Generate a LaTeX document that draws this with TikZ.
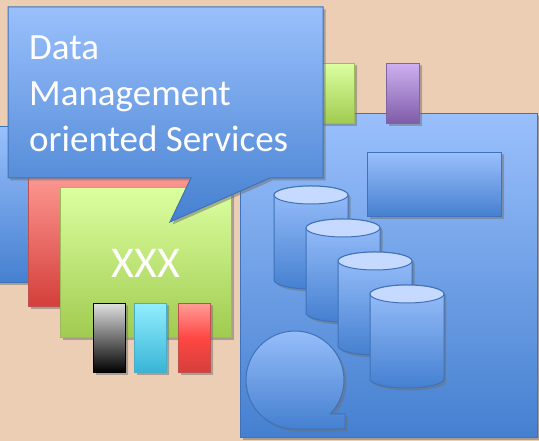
\documentclass[tikz,border=0pt]{standalone}
\usepackage{fontspec}
\setmainfont{Carlito}
\usetikzlibrary{shadows}
\definecolor{peach}{HTML}{EBCEB4}
\definecolor{blueTop}{HTML}{9AC0FC}
\definecolor{blueBot}{HTML}{4580D0}
\definecolor{blueLine}{HTML}{3F72B8}
\definecolor{cylTop}{HTML}{C6DAFF}
\definecolor{greenTop}{HTML}{DCFFA0}
\definecolor{greenBot}{HTML}{A0CB50}
\definecolor{greenLine}{HTML}{9BBB59}
\definecolor{redTop}{HTML}{FF9C96}
\definecolor{redBot}{HTML}{D43F3A}
\definecolor{redLine}{HTML}{C0504D}
\definecolor{purpleTop}{HTML}{CDB0F0}
\definecolor{purpleBot}{HTML}{7E5CA8}
\definecolor{purpleLine}{HTML}{8064A2}
\definecolor{cyanTop}{HTML}{92EEFF}
\definecolor{cyanBot}{HTML}{38B4D6}
\definecolor{cyanLine}{HTML}{4BACC6}
\tikzset{
  shadowed/.style={drop shadow={top color=black!60,bottom color=black!60,middle color=black!60,
      draw=none,opacity=0.3,shadow xshift=2.5pt,shadow yshift=-2.5pt}},
  box/.style={draw,anchor=south west,inner sep=0pt,line width=1pt,shadowed},
  bluebox/.style={box,top color=blueTop,bottom color=blueBot,draw=blueLine},
  greenbox/.style={box,top color=greenTop,bottom color=greenBot,draw=greenLine},
  redbox/.style={box,top color=redTop,bottom color=redBot,draw=redLine},
  purplebox/.style={box,top color=purpleTop,bottom color=purpleBot,draw=purpleLine},
  cyanbox/.style={box,top color=cyanTop,bottom color=cyanBot,draw=cyanLine},
  bar/.style={minimum width=32pt,minimum height=69pt},
  tab/.style={minimum height=60pt},
  blueshape/.style={draw=blueLine,line width=1pt,top color=blueTop,bottom color=blueBot,shadowed},
}
\begin{document}
\begin{tikzpicture}[x=1pt,y=1pt]
  \fill[peach] (0,0) rectangle (539,441);
  \useasboundingbox (0,0) rectangle (539,441);
  % left stack
  \node[bluebox,minimum width=65pt,minimum height=156pt] (back) at (-5,158) {};
  \node[redbox,minimum width=172pt,minimum height=137pt] (redpanel) at (28,134) {};
  \node[greenbox,minimum width=171pt,minimum height=150pt] (greenpanel) at (60,103) {};
  \node[text=white,font=\fontsize{44}{50}\selectfont] (xxx) at (146,178) {XXX};
  \node[box,bar,draw=black,top color=gray!25,middle color=gray!65,bottom color=black] (blackbar) at (93,68) {};
  \node[cyanbox,bar] (cyanbar) at (134,68) {};
  \node[redbox,bar,middle color=red!55!redTop] (redbar) at (178,68) {};
  % right side
  \node[bluebox,minimum width=297pt,minimum height=324pt] (main) at (240,3) {};
  \node[greenbox,tab,minimum width=36pt] (greentab) at (318,317) {};
  \node[purplebox,tab,minimum width=33pt] (purpletab) at (386,317) {};
  \node[bluebox,minimum width=134pt,minimum height=64pt] (panel) at (367,224) {};
  \foreach \i in {0,...,3} {
    \begin{scope}[shift={(32*\i,-33*\i)}]
      \path[blueshape] (274,246) -- (274,161) arc[start angle=180,end angle=360,x radius=37,y radius=9]
        -- (348,246) arc[start angle=0,end angle=180,x radius=37,y radius=9] -- cycle;
      \draw[blueLine,line width=1pt,fill=cylTop] (311,246) ellipse[x radius=37,y radius=9];
    \end{scope}
  }
  \path[blueshape] (330.3,27) arc[start angle=-43.9,end angle=270,radius=49]
    -- (345,12) -- (345,27) -- cycle;
  % callout
  \path[blueshape] (8,434) -- (323,434) -- (323,263) -- (270,263) -- (170,219)
    -- (191,263) -- (8,263) -- cycle;
  \node[anchor=north west,inner sep=0pt,align=left,text=white,
        font=\fontsize{37}{46}\selectfont] (dms) at (29,405)
    {Data\\Management\\oriented Services};
\end{tikzpicture}
\end{document}
